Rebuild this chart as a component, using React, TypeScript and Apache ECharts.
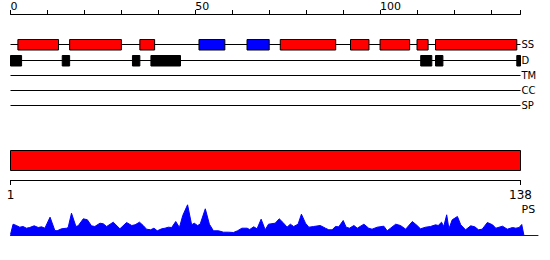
import React, { useEffect, useRef } from 'react';
import * as echarts from 'echarts';

const seqLength = 138;
const trackNames = ['SS', 'D', 'TM', 'CC', 'SP'];
const helices: [number, number][] = [[2, 13], [16, 30], [35, 39], [73, 88], [92, 97], [100, 108], [110, 113], [115, 137]];
const strands: [number, number][] = [[51, 58], [64, 70]];
const disorder: [number, number][] = [[0, 3], [14, 16], [33, 35], [38, 46], [111, 114], [115, 117], [137, 138]];
const families: [number, number][] = [[1, 138]];
const topLabels = [0, 50, 100];
const bottomLabels = [1, 138];
const psProfile: [number, number][] = [
  [0, 1], [0.7, 11.3], [1.6, 10], [2.5, 8.3], [3.4, 9], [4.3, 7.3], [5.2, 8], [6.4, 9.7], [7.5, 8], [8.4, 8.7],
  [9.3, 7.3], [10.7, 18.3], [12.0, 5], [12.6, 4.7], [13.8, 6.7], [15.2, 7.3], [15.6, 8], [16.5, 22.3], [17.7, 9],
  [18.3, 9.7], [19.7, 16.7], [20.8, 15.7], [21.9, 9.7], [22.8, 9], [24.2, 12.3], [25.1, 11.7], [26.0, 9],
  [27.8, 13.3], [29.6, 6.7], [31.4, 13], [32.8, 10], [33.7, 10.7], [34.9, 13.3], [35.9, 10], [36.8, 6.3],
  [37.9, 5.7], [38.8, 7.3], [39.7, 4.7], [40.9, 6.7], [41.8, 7.3], [42.7, 8.3], [43.6, 8], [44.7, 14], [45.7, 8],
  [46.6, 20], [47.9, 30.7], [49.0, 10.7], [49.7, 12.3], [50.6, 10], [51.3, 11.3], [52.7, 26.7], [53.8, 11.3],
  [54.9, 4.7], [56.3, 4.7], [57.6, 3.3], [59.0, 3.3], [60.3, 3], [61.4, 4.7], [62.6, 7.3], [64.0, 7.3], [64.7, 6],
  [65.8, 8.7], [66.7, 6.7], [67.8, 16.3], [68.9, 5.7], [69.8, 11.3], [71.6, 12.3], [72.7, 16.7], [73.9, 12.3],
  [74.8, 8.3], [75.7, 11.3], [76.6, 9], [77.8, 11.3], [78.7, 21.3], [79.8, 12.3], [80.7, 8.3], [82.0, 9],
  [83.8, 10], [85.2, 7.3], [86.1, 5.7], [87.0, 5.7], [87.9, 9], [88.8, 8.7], [90.0, 15], [90.8, 8.3], [91.7, 7.3],
  [92.9, 10], [93.8, 7.3], [95.6, 11.3], [96.9, 7.3], [97.8, 6.3], [99.2, 8.3], [101.0, 9.3], [101.9, 4.7],
  [102.8, 7.3], [104.2, 11.3], [105.5, 10], [106.9, 6.3], [108.7, 14], [110.0, 10], [110.9, 6.7], [112.3, 8.3],
  [113.6, 9], [115.0, 10.7], [115.7, 10], [116.6, 13.3], [117.2, 9], [118.0, 20.7], [118.6, 6.7], [119.5, 15.7],
  [120.9, 19], [121.8, 10.7], [123.1, 5.7], [124.5, 9.7], [125.6, 8.7], [126.6, 5.7], [127.6, 6.3], [129.0, 13],
  [130.4, 10.7], [131.3, 7.3], [133.1, 9.3], [134.4, 6.3], [135.8, 8], [136.7, 7.3], [137.6, 8], [138.3, 11],
  [138.9, 0],
];

const FONT = 'DejaVu Sans';
const TOP = 14;
const rowPixels = [44.5, 60.5, 75.5, 90.5, 105.5];
const rowValue = (i: number) => rowPixels[i] - TOP;
const boxColors = ['#ff0000', '#0000ff', '#000000'];

export default function App() {
  const ref = useRef<HTMLDivElement>(null);
  useEffect(() => {
    if (!ref.current) return;
    const chart = echarts.init(ref.current, null, { renderer: 'svg' });

    const featureData = [
      ...helices.map(([s, e]) => [s, e, 0, 0]),
      ...strands.map(([s, e]) => [s, e, 0, 1]),
      ...disorder.map(([s, e]) => [s, e, 1, 2]),
    ];

    const trackSeries = trackNames.map((name, i) => ({
      type: 'line',
      name,
      xAxisIndex: 0,
      yAxisIndex: 0,
      data: [[0, rowValue(i)], [seqLength, rowValue(i)]],
      symbol: 'none',
      lineStyle: { color: '#000', width: 1 },
      endLabel: { show: true, formatter: '{a}', distance: 1, fontSize: 10, fontFamily: FONT, color: '#000' },
      silent: true,
      z: 1,
    }));

    chart.setOption({
      animation: false,
      grid: [
        { left: 10.5, top: TOP, width: 510, height: 100 },
        { left: 10.5, top: 150, width: 510, height: 30 },
        { left: 10.5, top: 200, width: 527.5, height: 35.5 },
      ],
      xAxis: [
        {
          gridIndex: 0, type: 'value', position: 'top', min: 0, max: seqLength, interval: 10,
          axisLine: { show: true, onZero: false, lineStyle: { color: '#000', width: 1 } },
          axisTick: { show: true, length: 4, lineStyle: { color: '#000' } },
          axisLabel: {
            show: true, align: 'left', margin: 2, fontSize: 11, fontFamily: FONT, color: '#000',
            formatter: (v: number) => (topLabels.includes(v) ? String(v) : ''),
          },
          splitLine: { show: false },
        },
        {
          gridIndex: 1, type: 'value', position: 'bottom', min: bottomLabels[0], max: bottomLabels[1],
          axisLine: { show: true, onZero: false, lineStyle: { color: '#000', width: 1 } },
          axisTick: { show: true, length: 5, customValues: bottomLabels, lineStyle: { color: '#000' } },
          axisLabel: { show: true, customValues: bottomLabels, margin: 9, fontSize: 12, fontFamily: FONT, color: '#000' },
          splitLine: { show: false },
        },
        {
          gridIndex: 2, type: 'value', min: 0, max: 142.7,
          axisLine: { show: true, onZero: false, lineStyle: { color: '#0000ff', width: 1 } },
          axisTick: { show: false }, axisLabel: { show: false }, splitLine: { show: false },
        },
      ],
      yAxis: [
        { gridIndex: 0, type: 'value', min: 0, max: 100, inverse: true, show: false },
        { gridIndex: 1, type: 'value', min: 0, max: 30, inverse: true, show: false },
        { gridIndex: 2, type: 'value', min: 0, max: 35.5, show: false },
      ],
      graphic: [
        { type: 'text', left: 521.5, top: 204, style: { text: 'PS', fontSize: 11, fontFamily: FONT, fill: '#000' } },
      ],
      series: [
        ...trackSeries,
        {
          type: 'custom',
          xAxisIndex: 0,
          yAxisIndex: 0,
          data: featureData,
          encode: { x: [0, 1], y: 2 },
          z: 5,
          silent: true,
          renderItem: (params: any, api: any) => {
            const s = api.value(0);
            const e = api.value(1);
            const row = api.value(2);
            const kind = api.value(3);
            const p1 = api.coord([s, rowValue(row)]);
            const p2 = api.coord([e, rowValue(row)]);
            return {
              type: 'rect',
              shape: { x: p1[0], y: p1[1] - 5, width: p2[0] - p1[0], height: 10.5 },
              style: { fill: boxColors[kind], stroke: '#000', lineWidth: 1 },
            };
          },
        },
        {
          type: 'custom',
          xAxisIndex: 1,
          yAxisIndex: 1,
          data: families.map(([s, e]) => [s, e]),
          encode: { x: [0, 1] },
          silent: true,
          renderItem: (params: any, api: any) => {
            const p1 = api.coord([api.value(0), 0.5]);
            const p2 = api.coord([api.value(1), 20.5]);
            return {
              type: 'rect',
              shape: { x: p1[0], y: p1[1], width: p2[0] - p1[0], height: p2[1] - p1[1] },
              style: { fill: '#ff0000', stroke: '#000', lineWidth: 1 },
            };
          },
        },
        {
          type: 'line',
          name: 'PS',
          xAxisIndex: 2,
          yAxisIndex: 2,
          data: psProfile,
          symbol: 'none',
          lineStyle: { color: '#0000ff', width: 1 },
          areaStyle: { color: '#0000ff', opacity: 1 },
          silent: true,
        },
      ],
    });
    return () => chart.dispose();
  }, []);
  return <div ref={ref} style={{ position: 'absolute', left: 0, top: 0, width: 550, height: 260, background: '#fff' }} />;
}
